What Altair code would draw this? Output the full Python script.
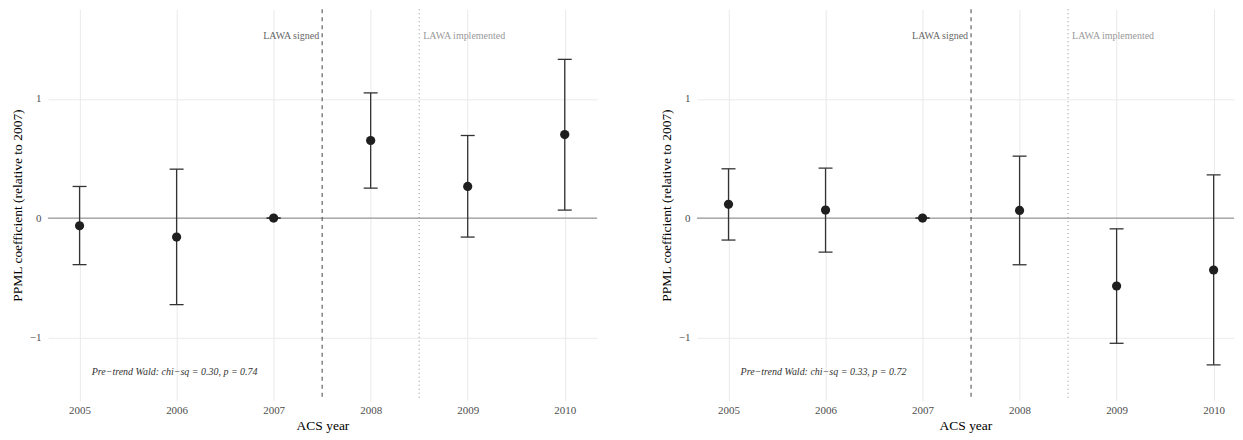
import altair as alt
import pandas as pd

years = [2005, 2006, 2007, 2008, 2009, 2010]

left_est = [-0.064, -0.159, 0.0, 0.650, 0.265, 0.700]
left_lo = [-0.390, -0.725, 0.0, 0.251, -0.159, 0.067]
left_hi = [0.265, 0.410, 0.0, 1.049, 0.692, 1.330]
left_note = "Pre\u2212trend Wald: chi\u2212sq = 0.30, p = 0.74"

right_est = [0.115, 0.067, 0.0, 0.064, -0.569, -0.435]
right_lo = [-0.184, -0.285, 0.0, -0.391, -1.049, -1.230]
right_hi = [0.413, 0.418, 0.0, 0.519, -0.090, 0.362]
right_note = "Pre\u2212trend Wald: chi\u2212sq = 0.33, p = 0.72"

event_x = [2007.5, 2008.5]
event_labels = ["LAWA signed", "LAWA implemented"]
y_ticks = [-1, 0, 1]

FONT = "Liberation Serif"


def panel(est, lo, hi, note, width, xmax):
    df = pd.DataFrame({"year": years, "est": est, "lo": lo, "hi": hi})
    xs = alt.Scale(domain=[2004.674, xmax], nice=False, zero=False)
    ys = alt.Scale(domain=[-1.53, 1.749], nice=False, zero=False)
    xaxis = alt.Axis(values=years, format="d", title="ACS year",
                     labelPadding=4, titlePadding=3)
    yaxis = alt.Axis(values=y_ticks, format="d",
                     title="PPML coefficient (relative to 2007)",
                     labelPadding=7, titlePadding=5, minExtent=18, maxExtent=18)
    X = lambda f: alt.X(f, scale=xs, axis=xaxis)
    Y = lambda f: alt.Y(f, scale=ys, axis=yaxis)

    base = alt.Chart(df)
    ev = alt.Chart(pd.DataFrame({"x": event_x, "label": event_labels}))

    zero = alt.Chart(pd.DataFrame({"z": [0]})).mark_rule(
        color="#666666", strokeWidth=0.8).encode(y=Y("z:Q"))
    signed = ev.transform_filter("datum.x == 2007.5").mark_rule(
        color="#555555", strokeWidth=1.1, strokeDash=[4, 4]).encode(x=X("x:Q"))
    impl = ev.transform_filter("datum.x == 2008.5").mark_rule(
        color="#999999", strokeWidth=1.1, strokeDash=[1, 3]).encode(x=X("x:Q"))
    signed_t = ev.transform_filter("datum.x == 2007.5").mark_text(
        align="right", baseline="middle", dx=-3, font=FONT, fontSize=10,
        color="#666666").encode(x=X("x:Q"), y=alt.YDatum(1.523, scale=ys, axis=yaxis), text="label:N")
    impl_t = ev.transform_filter("datum.x == 2008.5").mark_text(
        align="left", baseline="middle", dx=4, font=FONT, fontSize=10,
        color="#999999").encode(x=X("x:Q"), y=alt.YDatum(1.523, scale=ys, axis=yaxis), text="label:N")
    bars = base.mark_rule(color="#333333", strokeWidth=1.3).encode(
        x=X("year:Q"), y=Y("lo:Q"), y2="hi:Q")
    cap_lo = base.mark_tick(orient="horizontal", size=14, thickness=1.3,
                            color="#333333", opacity=1).encode(x=X("year:Q"), y=Y("lo:Q"))
    cap_hi = base.mark_tick(orient="horizontal", size=14, thickness=1.3,
                            color="#333333", opacity=1).encode(x=X("year:Q"), y=Y("hi:Q"))
    pts = base.mark_circle(size=85, color="#1f1f1f", opacity=1).encode(
        x=X("year:Q"), y=Y("est:Q"))
    note_t = alt.Chart(pd.DataFrame({"x": [2006], "y": [-1.29], "t": [note]})).mark_text(
        align="center", baseline="middle", dx=-2, font=FONT, fontSize=10,
        fontStyle="italic", color="#333333").encode(x=X("x:Q"), y=Y("y:Q"), text="t:N")

    return alt.layer(zero, signed, impl, signed_t, impl_t, bars, cap_lo, cap_hi,
                     pts, note_t).properties(width=width, height=392)


left = panel(left_est, left_lo, left_hi, left_note, 550, 2010.333)
right = panel(right_est, right_lo, right_hi, right_note, 538, 2010.21)

chart = alt.hconcat(left, right, spacing=62).properties(
    padding={"left": 3, "top": 0, "right": 0, "bottom": 0}, background="white"
).configure_view(stroke=None).configure_axis(
    labelFont=FONT, labelFontSize=11, labelColor="#4d4d4d",
    titleFont=FONT, titleFontSize=13.5, titleColor="#000000", titleFontWeight="normal",
    grid=True, gridColor="#ebebeb", gridWidth=1.1, domain=False, ticks=False
)

chart.save("out.html", embed_options={"renderer": "svg", "actions": False})
